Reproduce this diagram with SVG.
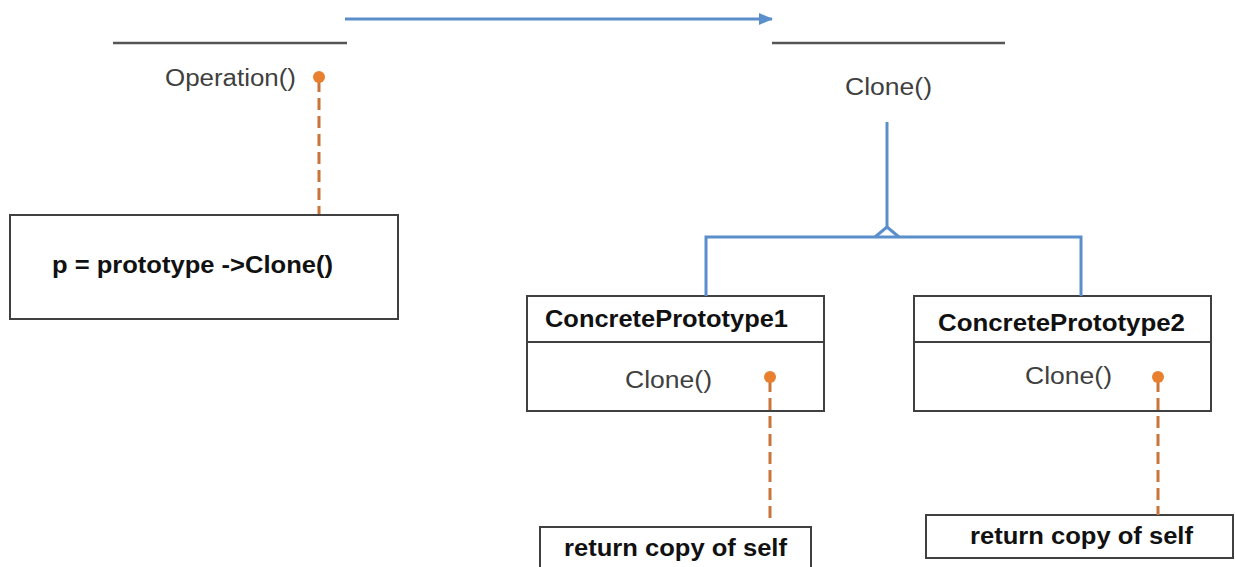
<svg xmlns="http://www.w3.org/2000/svg" width="1235" height="567" viewBox="0 0 1235 567">
<style>
.box{fill:#fff;stroke:#404040;stroke-width:2}
.rule{stroke:#555;stroke-width:2.5}
.t{font-family:"Liberation Sans",Arial,sans-serif;font-size:23px;fill:#404040}
.b{font-family:"Liberation Sans",Arial,sans-serif;font-size:23px;font-weight:bold;fill:#111}
.blue{stroke:#5B8FCB;stroke-width:3;fill:none}
.dash{stroke:#C8743A;stroke-width:3;stroke-dasharray:12,6;fill:none}
.dot{fill:#E8802F}
</style>
<defs>
<marker id="arr" markerWidth="14" markerHeight="12" refX="13" refY="6" orient="auto" markerUnits="userSpaceOnUse">
<path d="M0,0 L14,6 L0,12 z" fill="#5B8FCB"/>
</marker>
</defs>
<g id="client">
<line class="rule" x1="113" y1="43" x2="347" y2="43"/>
<text class="t" x="165" y="86" textLength="131" lengthAdjust="spacingAndGlyphs">Operation()</text>
</g>
<g id="prototype">
<line class="rule" x1="772" y1="43" x2="1005" y2="43"/>
<text class="t" x="845" y="95" textLength="87" lengthAdjust="spacingAndGlyphs">Clone()</text>
</g>
<g id="note-client">
<rect class="box" x="10" y="215" width="388" height="104"/>
<text class="b" x="52" y="273" font-size="22" textLength="281" lengthAdjust="spacingAndGlyphs">p = prototype -&gt;Clone()</text>
</g>
<g id="cp1">
<rect class="box" x="527" y="296" width="297" height="115"/>
<line class="box" x1="527" y1="342" x2="824" y2="342"/>
<text class="b" x="545" y="327" textLength="243" lengthAdjust="spacingAndGlyphs">ConcretePrototype1</text>
<text class="t" x="625" y="388" textLength="87" lengthAdjust="spacingAndGlyphs">Clone()</text>
</g>
<g id="cp2">
<rect class="box" x="914" y="296" width="297" height="115"/>
<line class="box" x1="914" y1="342" x2="1211" y2="342"/>
<text class="b" x="938" y="331" textLength="247" lengthAdjust="spacingAndGlyphs">ConcretePrototype2</text>
<text class="t" x="1025" y="384" textLength="87" lengthAdjust="spacingAndGlyphs">Clone()</text>
</g>
<g id="note-cp1">
<rect class="box" x="540" y="527" width="271" height="50"/>
<text class="b" x="564" y="556" textLength="223" lengthAdjust="spacingAndGlyphs">return copy of self</text>
</g>
<g id="note-cp2">
<rect class="box" x="926" y="515" width="307" height="43"/>
<text class="b" x="970" y="544" textLength="223" lengthAdjust="spacingAndGlyphs">return copy of self</text>
</g>
<g id="connectors">
<line class="blue" x1="345" y1="19" x2="772" y2="19" marker-end="url(#arr)"/>
<line class="blue" x1="887" y1="122" x2="887" y2="227"/>
<path class="blue" d="M875,237 L887,227 L899,237"/>
<path class="blue" d="M706,296 L706,237 L1081,237 L1081,296"/>
<line class="dash" x1="319" y1="80" x2="319" y2="214"/>
<circle class="dot" cx="319" cy="77" r="6"/>
<line class="dash" x1="770" y1="380" x2="770" y2="520"/>
<circle class="dot" cx="770" cy="377" r="6"/>
<line class="dash" x1="1158" y1="380" x2="1158" y2="515"/>
<circle class="dot" cx="1158" cy="377" r="6"/>
</g>
</svg>
